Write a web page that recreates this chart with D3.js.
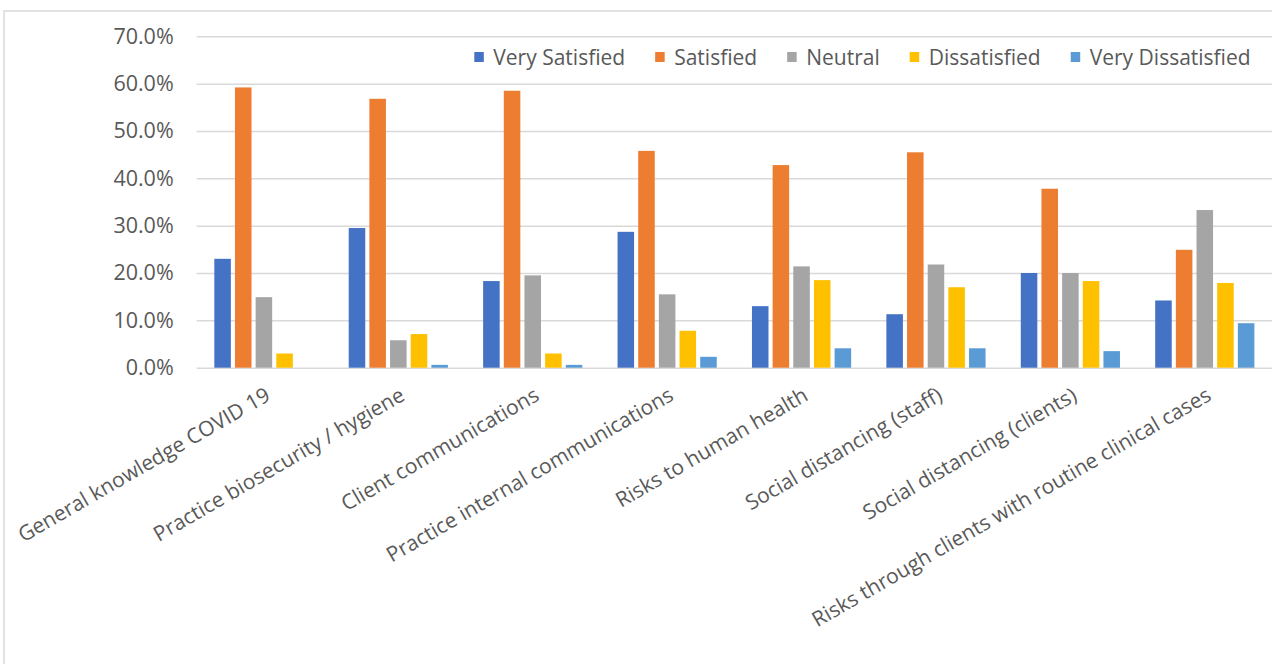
<!DOCTYPE html>
<html>
<head>
<meta charset="utf-8">
<script src="https://cdn.jsdelivr.net/npm/d3@7"></script>
<style>
  html, body { margin: 0; padding: 0; background: #fff; }
  svg { display: block; }
  text { font-family: "Open Sans", sans-serif; fill: #595959; }
</style>
</head>
<body>
<svg id="chart" width="1272" height="664"></svg>
<script>
// Satisfaction with practice guidance during COVID 19, share of respondents per topic
const categories = [
  "General knowledge COVID 19",
  "Practice biosecurity / hygiene",
  "Client communications",
  "Practice internal communications",
  "Risks to human health",
  "Social distancing (staff)",
  "Social distancing (clients)",
  "Risks through clients with routine clinical cases"
];
const seriesNames = ["Very Satisfied", "Satisfied", "Neutral", "Dissatisfied", "Very Dissatisfied"];
const verySatisfied    = [0.230, 0.295, 0.183, 0.287, 0.130, 0.113, 0.200, 0.142];
const satisfied        = [0.592, 0.568, 0.585, 0.458, 0.428, 0.455, 0.378, 0.249];
const neutral          = [0.149, 0.058, 0.195, 0.155, 0.214, 0.218, 0.200, 0.333];
const dissatisfied     = [0.030, 0.071, 0.030, 0.078, 0.185, 0.170, 0.183, 0.179];
const veryDissatisfied = [0.000, 0.006, 0.006, 0.023, 0.041, 0.041, 0.035, 0.094];
const yTicks = [0, 0.1, 0.2, 0.3, 0.4, 0.5, 0.6, 0.7];

const seriesValues = [verySatisfied, satisfied, neutral, dissatisfied, veryDissatisfied];
const colors = ["#4472C4", "#ED7D31", "#A5A5A5", "#FFC000", "#5B9BD5"];

const svg = d3.select("#chart");

// Chart area frame
svg.append("rect")
  .attr("x", 4).attr("y", 11)
  .attr("width", 1300).attr("height", 700)
  .attr("fill", "none")
  .attr("stroke", "#d9d9d9")
  .attr("stroke-width", 1.5);

const plot = { left: 196.7, right: 1272, top: 36.3, bottom: 367.7 };

const x0 = d3.scaleBand()
  .domain(categories)
  .range([plot.left, plot.right])
  .paddingInner(0.262)
  .paddingOuter(0.131);

const x1 = d3.scaleBand()
  .domain(d3.range(seriesNames.length))
  .range([0, x0.bandwidth()])
  .paddingInner(0.2)
  .paddingOuter(0);

const y = d3.scaleLinear().domain([0, 0.7]).range([plot.bottom, plot.top]);

// Horizontal gridlines and value axis
const yAxis = d3.axisLeft(y)
  .tickValues(yTicks)
  .tickFormat(d3.format(".1%"))
  .tickSize(-(plot.right - plot.left))
  .tickPadding(23);

const gy = svg.append("g")
  .attr("transform", `translate(${plot.left},0)`)
  .call(yAxis);
gy.select(".domain").remove();
gy.selectAll(".tick line")
  .attr("stroke", "#d9d9d9")
  .attr("stroke-width", 1.5);
gy.selectAll(".tick text")
  .attr("font-size", 21.5)
  .attr("fill", "#595959")
  .attr("font-family", "'Open Sans', sans-serif");

// Bars
const groups = svg.append("g").selectAll("g")
  .data(categories)
  .join("g")
  .attr("transform", d => `translate(${x0(d)},0)`);

groups.selectAll("rect")
  .data((c, ci) => seriesValues.map((vals, si) => ({ si, v: vals[ci] })))
  .join("rect")
  .attr("x", d => x1(d.si))
  .attr("width", x1.bandwidth())
  .attr("y", d => y(d.v))
  .attr("height", d => y(0) - y(d.v))
  .attr("fill", d => colors[d.si]);

// Category axis labels, rotated
const gx = svg.append("g")
  .attr("transform", `translate(0,${plot.bottom})`)
  .call(d3.axisBottom(x0).tickSize(0).tickPadding(0));
gx.select(".domain").remove();
gx.selectAll(".tick text")
  .attr("font-size", 21)
  .attr("font-family", "'Open Sans', sans-serif")
  .attr("fill", "#595959")
  .attr("text-anchor", "end")
  .attr("x", 0).attr("y", 0).attr("dy", "0.75em")
  .attr("transform", "translate(0,18) rotate(-30)");

// Legend
const legend = svg.append("g").attr("transform", "translate(474.3,57)");
let lx = 0;
seriesNames.forEach((name, i) => {
  const item = legend.append("g").attr("transform", `translate(${lx},0)`);
  item.append("rect")
    .attr("x", 0).attr("y", -5)
    .attr("width", 9.5).attr("height", 10)
    .attr("fill", colors[i]);
  const t = item.append("text")
    .attr("x", 19)
    .attr("y", 0)
    .attr("dy", "0.36em")
    .attr("font-size", 21)
    .text(name);
  lx += 19 + t.node().getComputedTextLength() + 30;
});
</script>
</body>
</html>
